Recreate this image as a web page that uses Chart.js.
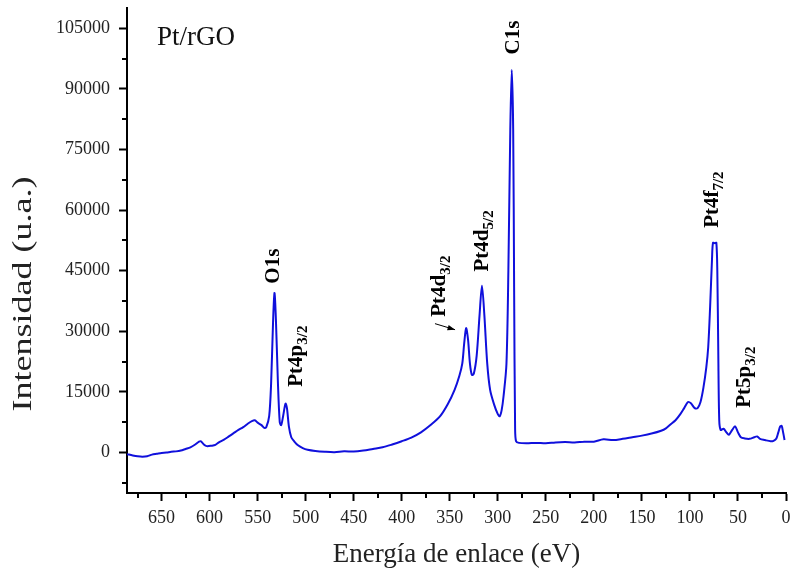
<!DOCTYPE html>
<html>
<head>
<meta charset="utf-8">
<script src="https://cdn.jsdelivr.net/npm/chart.js@4/dist/chart.umd.min.js"></script>
<style>
  html, body { margin: 0; padding: 0; background: #fff; }
</style>
</head>
<body>
<canvas id="xpsChart" width="791" height="573"></canvas>
<script>
// Spectrum (binding energy in eV, intensity in a.u.)
const energy = [
  686, 680, 675, 670, 665, 660, 655, 650, 645, 640, 635, 630, 625, 620, 615, 611, 609, 606, 603, 598,
  594, 590, 585, 580, 575, 570, 565, 560, 556, 553, 550, 546, 543, 541, 538, 536, 534, 532.5, 531, 529,
  527, 525.5, 523.5, 521, 519.5, 517.5, 515, 512, 508, 503, 498, 490, 480, 470, 460, 450, 440, 430, 420, 410,
  400, 390, 380, 370, 360, 352, 345, 340, 337, 335, 333, 331, 329, 327, 325, 322, 319, 316.5, 314, 311,
  308, 304, 300, 298, 296, 294, 291, 289, 287, 285.5, 284, 283, 282, 281, 278, 270, 260, 250, 240, 230,
  220, 210, 200, 190, 180, 170, 160, 150, 140, 130, 125, 120, 115, 110, 106, 102, 99, 95, 92, 89,
  86, 83, 81, 79, 77, 76, 74, 72.5, 71.5, 70.5, 69.5, 68, 65, 62, 59.5, 56, 53, 50, 47, 43,
  38, 33, 30, 27, 22, 16, 13, 10, 8, 6, 4.5, 3, 1.5
];
const intensity = [
  -400, -700, -900, -1000, -900, -500, -300, -100, 0, 200, 300, 500, 900, 1300, 2000, 2700, 2800, 2000, 1600, 1700,
  1900, 2600, 3200, 4000, 4800, 5600, 6300, 7200, 7800, 8000, 7400, 6800, 6100, 6300, 9000, 17000, 32000, 39500, 33000, 18000,
  7500, 6800, 9000, 12100, 11000, 6500, 3800, 2800, 1800, 1100, 700, 400, 200, 100, 300, 250, 500, 900, 1300, 2000,
  2800, 3700, 5000, 6800, 9000, 12000, 15500, 19000, 22000, 27000, 30800, 28000, 22000, 19200, 19500, 24000, 34000, 41300, 34000, 22000,
  15500, 12000, 9500, 9000, 10500, 14000, 22000, 45000, 80000, 94700, 80000, 40000, 6000, 2800, 2400, 2300, 2400, 2300, 2500, 2600,
  2500, 2700, 2700, 3300, 3100, 3400, 3800, 4200, 4700, 5400, 6000, 7000, 8000, 9500, 11000, 12500, 12200, 11000, 11000, 12500,
  16000, 21000, 26000, 36000, 48000, 51900, 51800, 51900, 45000, 25000, 8000, 5600, 5900, 5000, 4400, 5600, 6500, 5000, 3800, 3500,
  3400, 3800, 4000, 3400, 3100, 2800, 2900, 3500, 5000, 6500, 6600, 5000, 3100
];

// Axis ticks
const xTicks = [650, 600, 550, 500, 450, 400, 350, 300, 250, 200, 150, 100, 50, 0];
const xMinor = [675, 625, 575, 525, 475, 425, 375, 325, 275, 225, 175, 125, 75, 25];
const yTicks = [0, 15000, 30000, 45000, 60000, 75000, 90000, 105000];
const yMinor = [-7500, 7500, 22500, 37500, 52500, 67500, 82500, 97500];

// Peak labels (rotated), placed in data units: x = baseline energy, y = start of text
const peakNames = ['O1s', 'Pt4p', 'Pt4d', 'Pt4d', 'C1s', 'Pt4f', 'Pt5p'];
const peakSubs  = ['', '3/2', '3/2', '5/2', '', '7/2', '3/2'];
const peakX     = [527.8, 503.8, 355, 310.2, 278, 70.8, 37.4];
const peakY     = [41800, 16300, 33600, 44800, 98500, 55600, 11100];

// Small arrow next to Pt4d3/2 (from -> to, data units)
const arrowFrom = [365.4, 31900];
const arrowTo   = [344.5, 30400];

const points = energy.map((e, i) => ({ x: e, y: intensity[i] }));

const serif = '"Liberation Serif", "Times New Roman", serif';

// Draws minor ticks, peak labels, the y title and the sample name
const decorPlugin = {
  id: 'decor',
  afterDraw(chart) {
    const ctx = chart.ctx;
    const xs = chart.scales.x, ys = chart.scales.y;
    const area = chart.chartArea;
    ctx.save();

    // minor ticks
    ctx.strokeStyle = '#000';
    ctx.lineWidth = 2;
    ctx.beginPath();
    xMinor.forEach(v => {
      const px = Math.round(xs.getPixelForValue(v));
      ctx.moveTo(px, area.bottom);
      ctx.lineTo(px, area.bottom + 5);
    });
    yMinor.forEach(v => {
      const py = Math.round(ys.getPixelForValue(v));
      ctx.moveTo(area.left, py);
      ctx.lineTo(area.left - 5, py);
    });
    ctx.stroke();

    // peak labels
    ctx.fillStyle = '#000';
    peakNames.forEach((name, i) => {
      const px = xs.getPixelForValue(peakX[i]);
      const py = ys.getPixelForValue(peakY[i]);
      ctx.save();
      ctx.translate(px, py);
      ctx.rotate(-Math.PI / 2);
      ctx.textAlign = 'left';
      ctx.textBaseline = 'alphabetic';
      ctx.font = 'bold 21px ' + serif;
      ctx.fillText(name, 0, 0);
      if (peakSubs[i]) {
        const w = ctx.measureText(name).width;
        ctx.font = 'bold 15px ' + serif;
        ctx.fillText(peakSubs[i], w, 5);
      }
      ctx.restore();
    });

    // arrow
    const ax0 = xs.getPixelForValue(arrowFrom[0]), ay0 = ys.getPixelForValue(arrowFrom[1]);
    const ax1 = xs.getPixelForValue(arrowTo[0]), ay1 = ys.getPixelForValue(arrowTo[1]);
    const ang = Math.atan2(ay1 - ay0, ax1 - ax0);
    ctx.lineWidth = 1;
    ctx.beginPath();
    ctx.moveTo(ax0, ay0);
    ctx.lineTo(ax1, ay1);
    ctx.stroke();
    ctx.beginPath();
    ctx.moveTo(ax1, ay1);
    ctx.lineTo(ax1 - 8 * Math.cos(ang - 0.35), ay1 - 8 * Math.sin(ang - 0.35));
    ctx.lineTo(ax1 - 8 * Math.cos(ang + 0.35), ay1 - 8 * Math.sin(ang + 0.35));
    ctx.closePath();
    ctx.fill();

    // y axis title
    ctx.save();
    ctx.fillStyle = '#222';
    ctx.translate(24, 294);
    ctx.rotate(-Math.PI / 2);
    ctx.font = '28px ' + serif;
    ctx.textAlign = 'center';
    ctx.textBaseline = 'middle';
    const title = 'Intensidad (u.a.)';
    const tw = ctx.measureText(title).width;
    ctx.scale(235 / tw, 1);
    ctx.fillText(title, 0, 0);
    ctx.restore();

    // sample name
    ctx.fillStyle = '#111';
    ctx.font = '27px ' + serif;
    ctx.textAlign = 'left';
    ctx.textBaseline = 'alphabetic';
    ctx.fillText('Pt/rGO', 157, 45);

    ctx.restore();
  }
};

new Chart(document.getElementById('xpsChart'), {
  type: 'scatter',
  data: {
    datasets: [{
      data: points,
      showLine: true,
      borderColor: '#1010dc',
      borderWidth: 2,
      pointRadius: 0,
      tension: 0.3,
      fill: false
    }]
  },
  options: {
    responsive: false,
    animation: false,
    layout: { padding: { top: 8, right: 5, left: 0, bottom: 0 } },
    plugins: {
      legend: { display: false },
      tooltip: { enabled: false }
    },
    scales: {
      x: {
        type: 'linear',
        reverse: true,
        min: 0,
        max: 686,
        afterFit: s => { s.height = 80; s.paddingLeft = 0; s.paddingRight = 0; },
        afterBuildTicks: s => { s.ticks = xTicks.map(v => ({ value: v })); },
        grid: { drawOnChartArea: false, tickLength: 8, tickWidth: 2, tickColor: '#000' },
        border: { color: '#000', width: 2 },
        ticks: {
          autoSkip: false,
          maxRotation: 0,
          color: '#222',
          padding: 6,
          font: { family: serif, size: 18 },
          callback: v => String(v)
        },
        title: {
          display: true,
          text: 'Energía de enlace (eV)',
          color: '#222',
          font: { family: serif, size: 27 },
          padding: { top: 0, bottom: 2 }
        }
      },
      y: {
        type: 'linear',
        min: -10000,
        max: 110000,
        afterFit: s => { s.width = 127; s.paddingTop = 0; s.paddingBottom = 0; },
        afterBuildTicks: s => { s.ticks = yTicks.map(v => ({ value: v })); },
        grid: { drawOnChartArea: false, tickLength: 8, tickWidth: 2, tickColor: '#000' },
        border: { color: '#000', width: 2 },
        ticks: {
          color: '#222',
          padding: 9,
          font: { family: serif, size: 18 },
          callback: v => String(v)
        }
      }
    }
  },
  plugins: [decorPlugin]
});
</script>
</body>
</html>
